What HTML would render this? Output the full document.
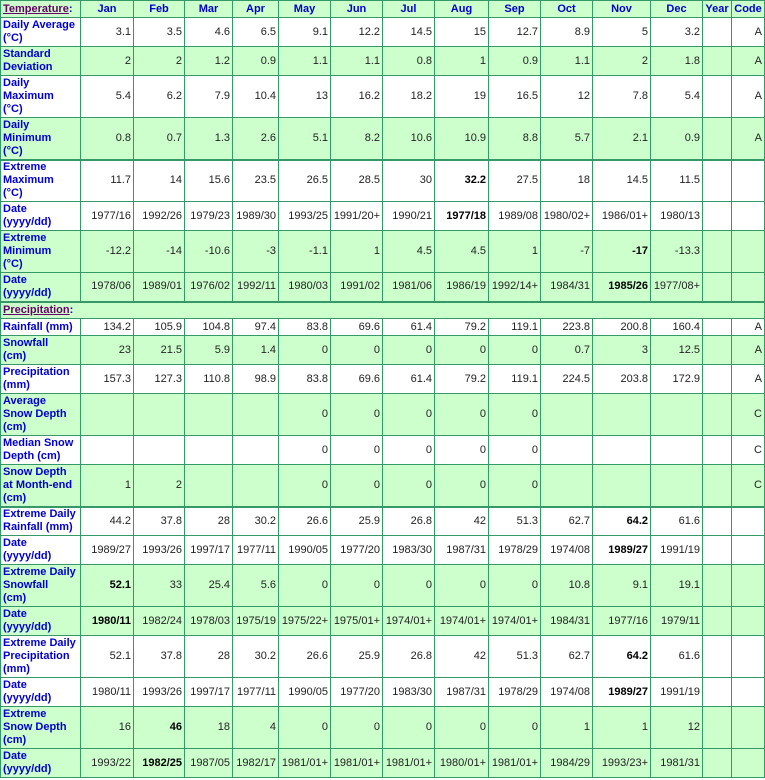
<!DOCTYPE html>
<html><head><meta charset="utf-8"><style>
body{margin:0;background:#fff;}
table{border-collapse:collapse;table-layout:fixed;width:764px;font-family:"Liberation Sans",Arial,sans-serif;font-size:11px;line-height:13px;}
td,th{border:1px solid #339966;padding:0 2px 0 2px;overflow:hidden;white-space:nowrap;}
th{color:#0000cc;font-weight:bold;text-align:center;background:#ccffcc;}
td{text-align:right;color:#222;}
td.l{text-align:left;color:#0000cc;font-weight:bold;padding-left:2px;}
tr.g td{background:#ccffcc;}
tr.t td,tr.t th{border-top:2px solid #339966;}
b{font-weight:bold;color:#000;}
.h{color:#660066;text-decoration:underline;font-weight:bold;}
</style></head><body>
<table>
<colgroup><col style="width:80px"><col style="width:53px"><col style="width:51px"><col style="width:48px"><col style="width:46px"><col style="width:52px"><col style="width:52px"><col style="width:52px"><col style="width:54px"><col style="width:52px"><col style="width:52px"><col style="width:58px"><col style="width:52px"><col style="width:29px"><col style="width:33px"></colgroup>
<tr style="height:17px"><th style="text-align:left;padding-left:2px"><span class="h">Temperature</span>:</th><th>Jan</th><th>Feb</th><th>Mar</th><th>Apr</th><th>May</th><th>Jun</th><th>Jul</th><th>Aug</th><th>Sep</th><th>Oct</th><th>Nov</th><th>Dec</th><th>Year</th><th>Code</th></tr>
<tr style="height:29px"><td class="l">Daily Average<br>(°C)</td><td>3.1</td><td>3.5</td><td>4.6</td><td>6.5</td><td>9.1</td><td>12.2</td><td>14.5</td><td>15</td><td>12.7</td><td>8.9</td><td>5</td><td>3.2</td><td></td><td>A</td></tr>
<tr class="g" style="height:29px"><td class="l">Standard<br>Deviation</td><td>2</td><td>2</td><td>1.2</td><td>0.9</td><td>1.1</td><td>1.1</td><td>0.8</td><td>1</td><td>0.9</td><td>1.1</td><td>2</td><td>1.8</td><td></td><td>A</td></tr>
<tr style="height:42px"><td class="l">Daily<br>Maximum<br>(°C)</td><td>5.4</td><td>6.2</td><td>7.9</td><td>10.4</td><td>13</td><td>16.2</td><td>18.2</td><td>19</td><td>16.5</td><td>12</td><td>7.8</td><td>5.4</td><td></td><td>A</td></tr>
<tr class="g" style="height:42px"><td class="l">Daily<br>Minimum<br>(°C)</td><td>0.8</td><td>0.7</td><td>1.3</td><td>2.6</td><td>5.1</td><td>8.2</td><td>10.6</td><td>10.9</td><td>8.8</td><td>5.7</td><td>2.1</td><td>0.9</td><td></td><td>A</td></tr>
<tr class="t" style="height:42px"><td class="l">Extreme<br>Maximum<br>(°C)</td><td>11.7</td><td>14</td><td>15.6</td><td>23.5</td><td>26.5</td><td>28.5</td><td>30</td><td><b>32.2</b></td><td>27.5</td><td>18</td><td>14.5</td><td>11.5</td><td></td><td></td></tr>
<tr style="height:29px"><td class="l">Date<br>(yyyy/dd)</td><td>1977/16</td><td>1992/26</td><td>1979/23</td><td>1989/30</td><td>1993/25</td><td>1991/20+</td><td>1990/21</td><td><b>1977/18</b></td><td>1989/08</td><td>1980/02+</td><td>1986/01+</td><td>1980/13</td><td></td><td></td></tr>
<tr class="g" style="height:42px"><td class="l">Extreme<br>Minimum<br>(°C)</td><td>-12.2</td><td>-14</td><td>-10.6</td><td>-3</td><td>-1.1</td><td>1</td><td>4.5</td><td>4.5</td><td>1</td><td>-7</td><td><b>-17</b></td><td>-13.3</td><td></td><td></td></tr>
<tr class="g" style="height:29px"><td class="l">Date<br>(yyyy/dd)</td><td>1978/06</td><td>1989/01</td><td>1976/02</td><td>1992/11</td><td>1980/03</td><td>1991/02</td><td>1981/06</td><td>1986/19</td><td>1992/14+</td><td>1984/31</td><td><b>1985/26</b></td><td>1977/08+</td><td></td><td></td></tr>
<tr class="t g" style="height:17px"><td class="l" colspan="15"><span class="h">Precipitation</span>:</td></tr>
<tr style="height:17px"><td class="l">Rainfall (mm)</td><td>134.2</td><td>105.9</td><td>104.8</td><td>97.4</td><td>83.8</td><td>69.6</td><td>61.4</td><td>79.2</td><td>119.1</td><td>223.8</td><td>200.8</td><td>160.4</td><td></td><td>A</td></tr>
<tr class="g" style="height:29px"><td class="l">Snowfall<br>(cm)</td><td>23</td><td>21.5</td><td>5.9</td><td>1.4</td><td>0</td><td>0</td><td>0</td><td>0</td><td>0</td><td>0.7</td><td>3</td><td>12.5</td><td></td><td>A</td></tr>
<tr style="height:29px"><td class="l">Precipitation<br>(mm)</td><td>157.3</td><td>127.3</td><td>110.8</td><td>98.9</td><td>83.8</td><td>69.6</td><td>61.4</td><td>79.2</td><td>119.1</td><td>224.5</td><td>203.8</td><td>172.9</td><td></td><td>A</td></tr>
<tr class="g" style="height:42px"><td class="l">Average<br>Snow Depth<br>(cm)</td><td></td><td></td><td></td><td></td><td>0</td><td>0</td><td>0</td><td>0</td><td>0</td><td></td><td></td><td></td><td></td><td>C</td></tr>
<tr style="height:29px"><td class="l">Median Snow<br>Depth (cm)</td><td></td><td></td><td></td><td></td><td>0</td><td>0</td><td>0</td><td>0</td><td>0</td><td></td><td></td><td></td><td></td><td>C</td></tr>
<tr class="g" style="height:42px"><td class="l">Snow Depth<br>at Month-end<br>(cm)</td><td>1</td><td>2</td><td></td><td></td><td>0</td><td>0</td><td>0</td><td>0</td><td>0</td><td></td><td></td><td></td><td></td><td>C</td></tr>
<tr class="t" style="height:29px"><td class="l">Extreme Daily<br>Rainfall (mm)</td><td>44.2</td><td>37.8</td><td>28</td><td>30.2</td><td>26.6</td><td>25.9</td><td>26.8</td><td>42</td><td>51.3</td><td>62.7</td><td><b>64.2</b></td><td>61.6</td><td></td><td></td></tr>
<tr style="height:29px"><td class="l">Date<br>(yyyy/dd)</td><td>1989/27</td><td>1993/26</td><td>1997/17</td><td>1977/11</td><td>1990/05</td><td>1977/20</td><td>1983/30</td><td>1987/31</td><td>1978/29</td><td>1974/08</td><td><b>1989/27</b></td><td>1991/19</td><td></td><td></td></tr>
<tr class="g" style="height:42px"><td class="l">Extreme Daily<br>Snowfall<br>(cm)</td><td><b>52.1</b></td><td>33</td><td>25.4</td><td>5.6</td><td>0</td><td>0</td><td>0</td><td>0</td><td>0</td><td>10.8</td><td>9.1</td><td>19.1</td><td></td><td></td></tr>
<tr class="g" style="height:29px"><td class="l">Date<br>(yyyy/dd)</td><td><b>1980/11</b></td><td>1982/24</td><td>1978/03</td><td>1975/19</td><td>1975/22+</td><td>1975/01+</td><td>1974/01+</td><td>1974/01+</td><td>1974/01+</td><td>1984/31</td><td>1977/16</td><td>1979/11</td><td></td><td></td></tr>
<tr style="height:42px"><td class="l">Extreme Daily<br>Precipitation<br>(mm)</td><td>52.1</td><td>37.8</td><td>28</td><td>30.2</td><td>26.6</td><td>25.9</td><td>26.8</td><td>42</td><td>51.3</td><td>62.7</td><td><b>64.2</b></td><td>61.6</td><td></td><td></td></tr>
<tr style="height:29px"><td class="l">Date<br>(yyyy/dd)</td><td>1980/11</td><td>1993/26</td><td>1997/17</td><td>1977/11</td><td>1990/05</td><td>1977/20</td><td>1983/30</td><td>1987/31</td><td>1978/29</td><td>1974/08</td><td><b>1989/27</b></td><td>1991/19</td><td></td><td></td></tr>
<tr class="g" style="height:42px"><td class="l">Extreme<br>Snow Depth<br>(cm)</td><td>16</td><td><b>46</b></td><td>18</td><td>4</td><td>0</td><td>0</td><td>0</td><td>0</td><td>0</td><td>1</td><td>1</td><td>12</td><td></td><td></td></tr>
<tr class="g" style="height:29px"><td class="l">Date<br>(yyyy/dd)</td><td>1993/22</td><td><b>1982/25</b></td><td>1987/05</td><td>1982/17</td><td>1981/01+</td><td>1981/01+</td><td>1981/01+</td><td>1980/01+</td><td>1981/01+</td><td>1984/29</td><td>1993/23+</td><td>1981/31</td><td></td><td></td></tr>
</table>
</body></html>
